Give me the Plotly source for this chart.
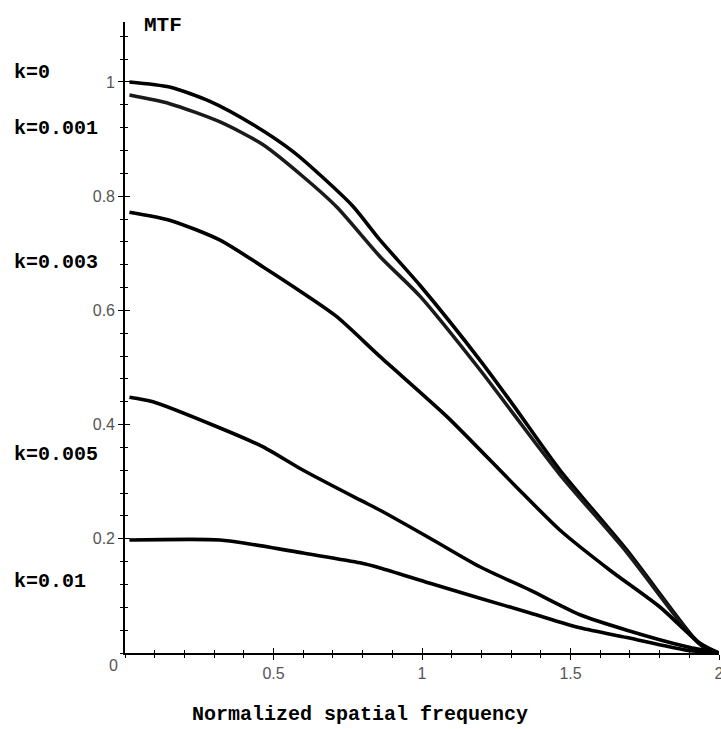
import plotly.graph_objects as go

k_labels = ["k=0", "k=0.001", "k=0.003", "k=0.005", "k=0.01"]

x_k0 = [0.015, 0.15, 0.286, 0.432, 0.566, 0.657, 0.768, 0.859, 0.993, 1.195, 1.306, 1.465, 1.69, 1.91, 1.96, 2.0]
y_k0 = [1.0, 0.991, 0.966, 0.925, 0.878, 0.837, 0.782, 0.723, 0.644, 0.513, 0.435, 0.320, 0.180, 0.030, 0.006, 0.0]

x_k001 = [0.015, 0.15, 0.32, 0.465, 0.6, 0.713, 0.859, 0.993, 1.195, 1.306, 1.465, 1.69, 1.91, 1.96, 2.0]
y_k001 = [0.977, 0.962, 0.930, 0.89, 0.834, 0.781, 0.694, 0.625, 0.496, 0.420, 0.312, 0.176, 0.028, 0.006, 0.0]

x_k003 = [0.015, 0.15, 0.32, 0.465, 0.6, 0.713, 0.859, 1.084, 1.306, 1.465, 1.633, 1.80, 1.936, 2.0]
y_k003 = [0.772, 0.758, 0.723, 0.676, 0.630, 0.589, 0.519, 0.414, 0.297, 0.215, 0.145, 0.081, 0.017, 0.0]

x_k005 = [0.015, 0.094, 0.32, 0.465, 0.6, 0.791, 0.859, 1.027, 1.195, 1.364, 1.532, 1.69, 1.892, 2.0]
y_k005 = [0.448, 0.440, 0.394, 0.361, 0.320, 0.268, 0.250, 0.201, 0.151, 0.110, 0.067, 0.040, 0.011, 0.0]

x_k01 = [0.015, 0.32, 0.42, 0.6, 0.791, 0.859, 1.027, 1.195, 1.364, 1.532, 1.69, 1.89, 2.0]
y_k01 = [0.198, 0.198, 0.191, 0.175, 0.158, 0.149, 0.122, 0.096, 0.070, 0.044, 0.027, 0.005, 0.0]

x_ticks = [0.5, 1, 1.5, 2]
y_ticks = [0.2, 0.4, 0.6, 0.8, 1]

series = [(x_k0, y_k0), (x_k001, y_k001), (x_k003, y_k003), (x_k005, y_k005), (x_k01, y_k01)]
colors = ["#000000", "#1a1a1a", "#000000", "#000000", "#000000"]

fig = go.Figure()
for (xs, ys), c, name in zip(series, colors, k_labels):
    fig.add_trace(go.Scatter(x=xs, y=ys, mode="lines", name=name,
                             line=dict(color=c, width=3.6, shape="spline", smoothing=0.7),
                             showlegend=False, hoverinfo="skip"))

# dummy trace for overlay axes (crossing ticks)
fig.add_trace(go.Scatter(x=[None], y=[None], xaxis="x2", yaxis="y2", showlegend=False, hoverinfo="skip"))

XR = [0, 2]
YR = [0, 1.105]
tickfont = dict(family="Liberation Sans, Arial", size=16, color="#555555")

fig.update_layout(
    width=721, height=729,
    margin=dict(l=125, r=2, t=22, b=76),
    paper_bgcolor="white", plot_bgcolor="white",
    xaxis=dict(range=XR, showgrid=False, zeroline=False, showline=True, linecolor="black", linewidth=1.6,
               tickvals=x_ticks, ticks="outside", ticklen=5, tickwidth=1.3, tickcolor="black",
               tickfont=tickfont, automargin=False, ticklabeloverflow="allow",
               minor=dict(ticks="outside", dtick=0.1, tick0=0, ticklen=3, tickwidth=1.3, tickcolor="black")),
    yaxis=dict(range=YR, showgrid=False, zeroline=False, showline=True, linecolor="black", linewidth=1.6,
               tickvals=y_ticks, ticks="outside", ticklen=5, tickwidth=1.3, tickcolor="black",
               tickfont=tickfont, automargin=False,
               minor=dict(ticks="outside", dtick=0.04, tick0=0, ticklen=3, tickwidth=1.3, tickcolor="black")),
    xaxis2=dict(range=XR, overlaying="x", showgrid=False, zeroline=False, showline=False,
                tickvals=x_ticks, ticks="inside", ticklen=5, tickwidth=1.3, tickcolor="black",
                showticklabels=False, side="bottom", automargin=False,
                minor=dict(ticks="inside", dtick=0.1, tick0=0, ticklen=3, tickwidth=1.3, tickcolor="black")),
    yaxis2=dict(range=YR, overlaying="y", showgrid=False, zeroline=False, showline=False,
                tickvals=y_ticks, ticks="inside", ticklen=5, tickwidth=1.3, tickcolor="black",
                showticklabels=False, side="left", automargin=False,
                minor=dict(ticks="inside", dtick=0.04, tick0=0, ticklen=3, tickwidth=1.3, tickcolor="black")),
    hovermode=False,
)

label_font = dict(family="Liberation Mono", size=20, color="black")
label_y = [1.017, 0.919, 0.683, 0.347, 0.125]
for txt, yy in zip(k_labels, label_y):
    fig.add_annotation(text="<b>%s</b>" % txt, xref="paper", yref="y", x=-0.19, y=yy,
                       xanchor="left", yanchor="middle", showarrow=False, font=label_font)

fig.add_annotation(text="<b>MTF</b>", xref="paper", yref="paper", x=0.028, y=0.995,
                   xanchor="left", yanchor="middle", showarrow=False,
                   font=dict(family="Liberation Mono", size=21, color="black"))
fig.add_annotation(text="0", xref="paper", yref="paper", x=-0.02, y=-0.02,
                   xanchor="center", yanchor="middle", showarrow=False, font=tickfont)
fig.add_annotation(text="<b>Normalized spatial frequency</b>", xref="paper", yref="paper",
                   x=0.395, y=-0.098, xanchor="center", yanchor="middle", showarrow=False,
                   font=dict(family="Liberation Mono", size=20, color="black"))

fig.write_html("out.html", config={"displayModeBar": False},
               post_script="document.body.style.margin='0px';document.body.style.overflow='hidden';")
